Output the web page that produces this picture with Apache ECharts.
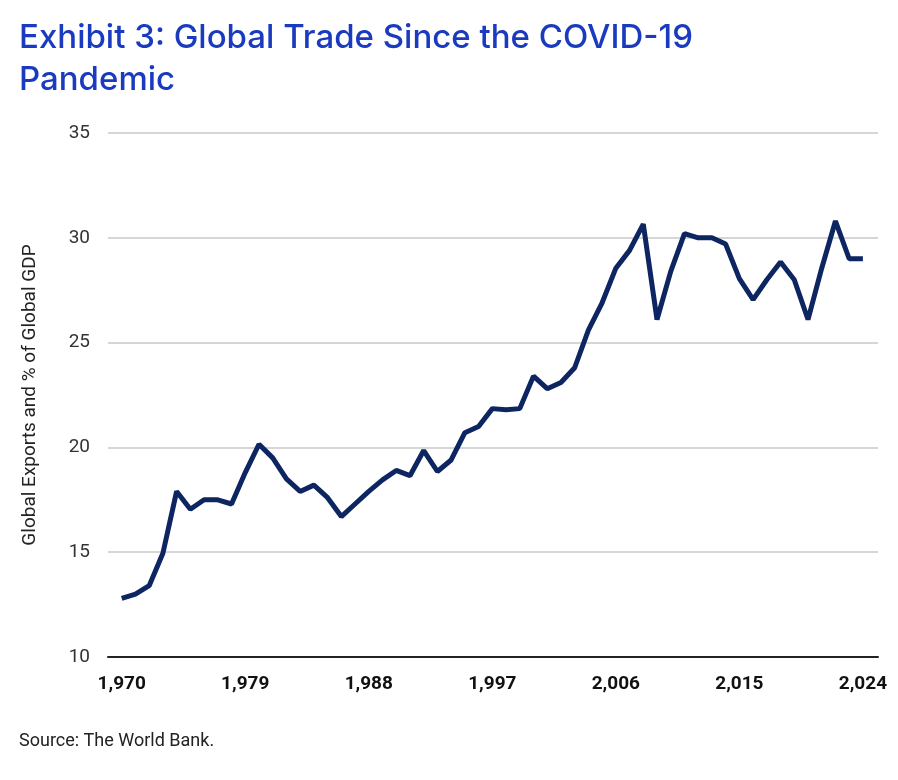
<!DOCTYPE html>
<html style="height: 100%">
<head>
    <meta charset="utf-8">
</head>
<body style="height: 100%; margin: 0; background: #fff">
    <div id="container" style="width: 898px; height: 780px"></div>
    <script src="https://cdn.jsdelivr.net/npm/echarts@6/dist/echarts.min.js"></script>
    <script type="text/javascript">
        var firstYear = 1970;
        var exportsPct = [
            12.8, 13.0, 13.4, 14.95, 17.9, 17.05, 17.5, 17.5, 17.3, 18.8,
            20.15, 19.5, 18.5, 17.9, 18.2, 17.6, 16.7, 17.3, 17.9, 18.45,
            18.9, 18.65, 19.85, 18.85, 19.4, 20.7, 21.0, 21.85, 21.8, 21.85,
            23.4, 22.8, 23.1, 23.8, 25.6, 26.9, 28.55, 29.4, 30.65, 26.1,
            28.4, 30.2, 30.0, 30.0, 29.7, 28.05, 27.05, 28.0, 28.85, 28.0,
            26.1, 28.55, 30.8, 29.0, 29.0
        ];
        var yearTicks = [1970, 1979, 1988, 1997, 2006, 2015, 2024];
        var points = exportsPct.map(function (v, i) { return [firstYear + i, v]; });
        var font = 'Roboto, sans-serif';

        var myChart = echarts.init(document.getElementById('container'));
        var option = {
            animation: false,
            title: [{
                text: 'Exhibit 3: Global Trade Since the COVID-19\nPandemic',
                left: 14, top: 12,
                textStyle: { color: '#1a3bbf', fontSize: 33, fontWeight: 500, lineHeight: 42, fontFamily: 'Inter, sans-serif' }
            }, {
                text: 'Source: The World Bank.',
                left: 14, top: 727,
                textStyle: { color: '#222', fontSize: 18, fontWeight: 'normal', fontFamily: font }
            }],
            grid: { left: 108, right: 20, top: 133, bottom: 123 },
            xAxis: {
                type: 'value',
                min: 1969, max: 2025.1,
                splitLine: { show: false },
                axisLine: { lineStyle: { color: '#222', width: 2 } },
                axisTick: { show: false },
                axisLabel: {
                    customValues: yearTicks,
                    margin: 18, color: '#111', fontSize: 19, fontWeight: 'bold', fontFamily: font
                }
            },
            yAxis: {
                type: 'value',
                min: 10, max: 35, interval: 5,
                name: 'Global Exports and % of Global GDP',
                nameLocation: 'middle',
                nameGap: 68,
                nameTextStyle: { color: '#222', fontSize: 19, fontFamily: font },
                axisLine: { show: false },
                axisTick: { show: false },
                axisLabel: { color: '#333', fontSize: 19, margin: 18, fontFamily: font },
                splitLine: { lineStyle: { color: '#c8c8c8', width: 1.5 } }
            },
            series: [{
                type: 'line',
                data: points,
                symbol: 'none',
                lineStyle: { color: '#0d2661', width: 5 }
            }]
        };
        myChart.setOption(option);
    </script>
</body>
</html>
